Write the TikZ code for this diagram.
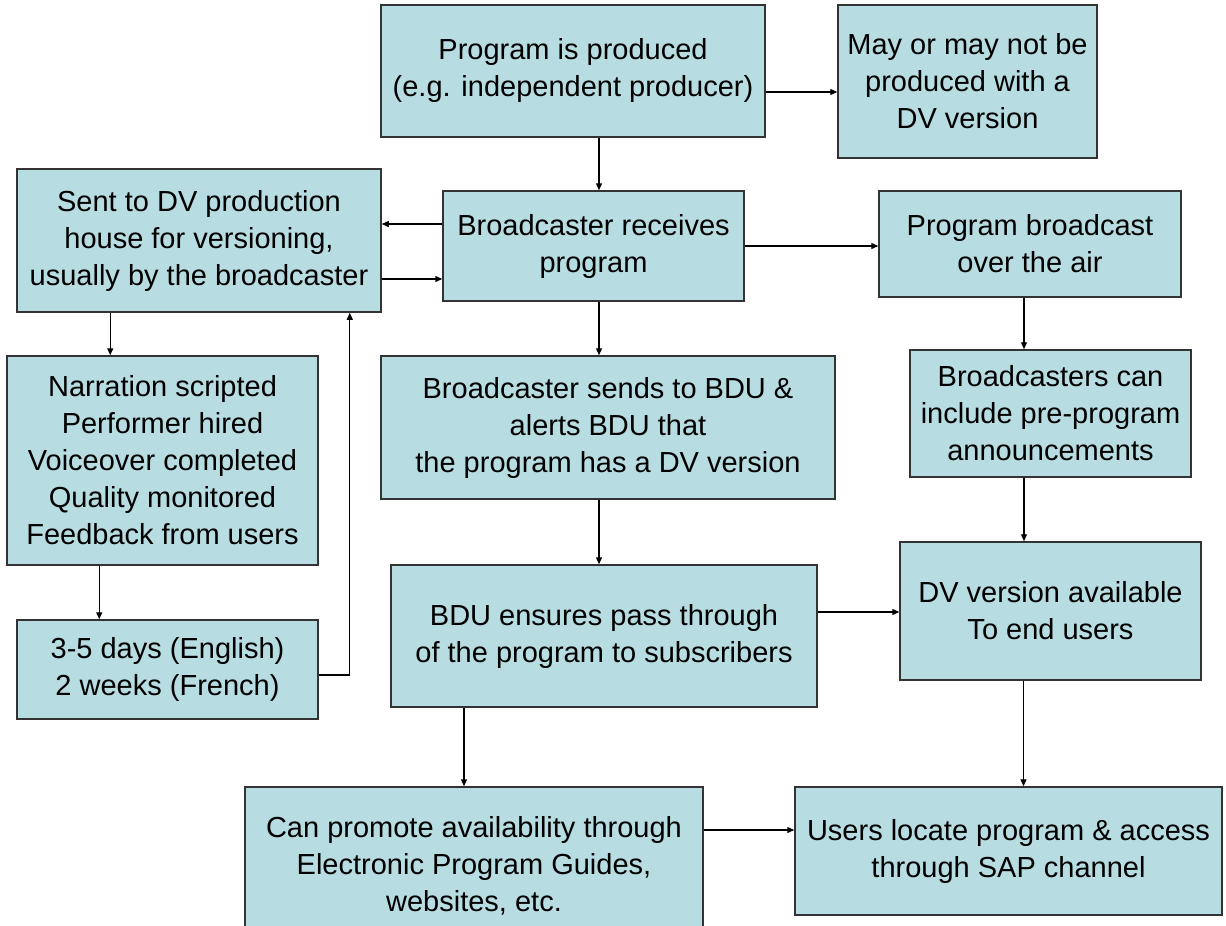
\documentclass[tikz,border=0pt]{standalone}
\usepackage{fontspec}
\setmainfont{Liberation Sans}
\usetikzlibrary{arrows.meta}
\definecolor{boxfill}{HTML}{B7DDE2}
\tikzset{
  box/.style={draw=black!80,line width=0.75pt,fill=boxfill,align=center,inner sep=0pt,
    font=\fontsize{14.5}{18.5}\selectfont},
  sz/.style 2 args={minimum width=#1*0.5pt,minimum height=#2*0.5pt},
  arr/.style={line width=0.65pt,-{Triangle[length=3.5pt,width=3pt]}}
}
\begin{document}
\begin{tikzpicture}[x=0.5pt,y=-0.5pt]
\useasboundingbox (0,0) rectangle (1226,926);
\node[box,sz={384}{132}] (prod) at (573,71) {Program is produced\\(e.g. independent producer)};
\node[box,sz={259}{153}] (maybe) at (967.5,81.5) {May or may not be\\produced with a\\DV version};
\node[box,sz={364}{143}] (sent) at (199,240.5) {Sent to DV production\\house for versioning,\\usually by the broadcaster};
\node[box,sz={301}{110}] (recv) at (593.5,246) {Broadcaster receives\\program};
\node[box,sz={302}{106}] (air) at (1030,244) {Program broadcast\\over the air};
\node[box,sz={311}{209}] (narr) at (162.5,460.5) {Narration scripted\\Performer hired\\Voiceover completed\\Quality monitored\\Feedback from users};
\node[box,sz={454}{143}] (sends) at (608,427.5) {Broadcaster sends to BDU \&\\alerts BDU that\\the program has a DV version};
\node[box,sz={281}{127}] (ann) at (1050.5,413.5) {Broadcasters can\\include pre-program\\announcements};
\node[box,sz={301}{99}] (days) at (167.5,669.5) {3-5 days (English)\\2 weeks (French)};
\node[box,sz={426}{142}] (bdu) at (604,636) {BDU ensures pass through\\of the program to subscribers};
\node[box,sz={301}{138}] (dv) at (1050.5,611) {DV version available\\To end users};
\node[box,sz={458}{158}] (promo) at (474,866) {Can promote availability through\\Electronic Program Guides,\\websites, etc.};
\node[box,sz={427}{128}] (users) at (1008.5,851) {Users locate program \& access\\through SAP channel};
\draw[arr] ([xshift=2.75pt]recv.north |- prod.south) -- ([xshift=2.75pt]recv.north);
\draw[arr] ([yshift=-10.5pt]prod.east) -- ([yshift=-10.5pt]prod.east -| maybe.west);
\draw[arr] ([yshift=11pt]recv.west) -- ([yshift=11pt]recv.west -| sent.east);
\draw[arr] ([yshift=-16.5pt]recv.west -| sent.east) -- ([yshift=-16.5pt]recv.west);
\draw[arr] (recv.east) -- (recv.east -| air.west);
\draw[arr] ([xshift=2.75pt]recv.south) -- ([xshift=2.75pt]recv.south |- sends.north);
\draw[arr] ([xshift=47pt]sent.south west) -- ([xshift=47pt]sent.south west |- narr.north);
\draw[arr] ([xshift=46.5pt]narr.south west) -- ([xshift=46.5pt]narr.south west |- days.north);
\draw[arr] ([yshift=-2.75pt]days.east) -| ([xshift=-16pt]sent.south east);
\draw[arr] ([xshift=-3pt]air.south) -- ([xshift=-3pt]air.south |- ann.north);
\draw[arr] ([xshift=-4.5pt]sends.south) -- ([xshift=-4.5pt]sends.south |- bdu.north);
\draw[arr] ([xshift=-13.25pt]ann.south) -- ([xshift=-13.25pt]ann.south |- dv.north);
\draw[arr] ([yshift=12pt]bdu.east) -- ([yshift=12pt]bdu.east -| dv.west);
\draw[arr] ([xshift=-5pt]promo.north |- bdu.south) -- ([xshift=-5pt]promo.north);
\draw[arr] ([xshift=-13.5pt]dv.south) -- ([xshift=-13.5pt]dv.south |- users.north);
\draw[arr] ([yshift=18pt]promo.east) -- ([yshift=18pt]promo.east -| users.west);
\end{tikzpicture}
\end{document}
